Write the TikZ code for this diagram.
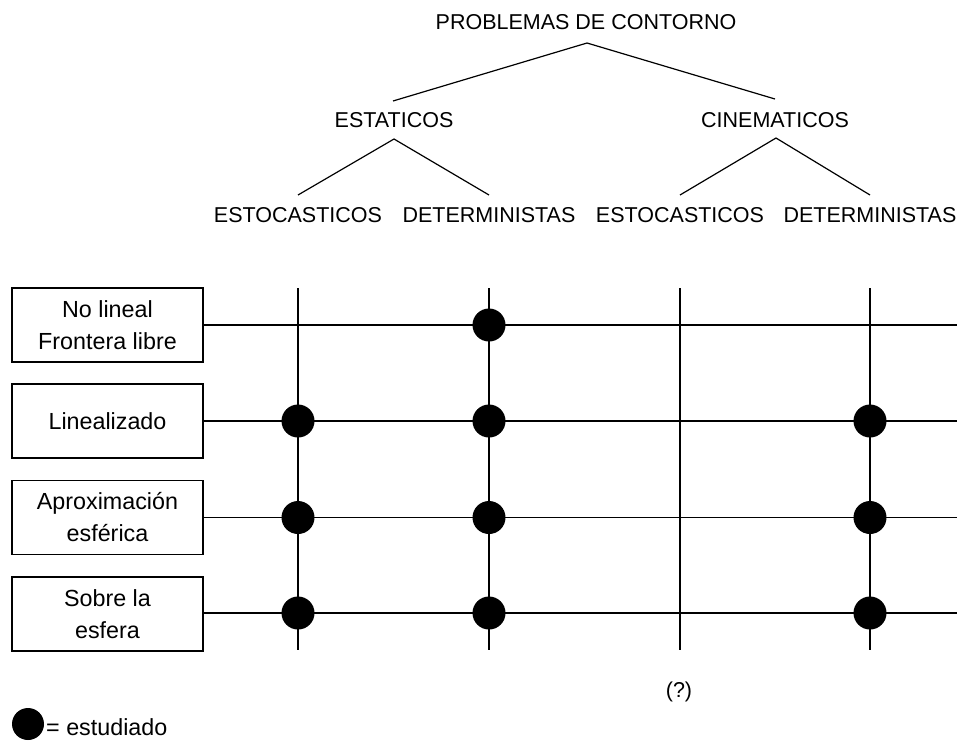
\documentclass[tikz,border=0pt]{standalone}
\usepackage{fontspec}
\setmainfont{Liberation Sans}
\begin{document}
\begin{tikzpicture}[x=1pt,y=-1pt,
  hdr/.style={font=\fontsize{21.5}{25}\selectfont, inner sep=0pt},
  rowbox/.style={draw, line width=1.1pt, minimum width=191pt, minimum height=74pt,
    align=center, font=\fontsize{23.3}{32}\selectfont, inner sep=0pt},
  gridline/.style={line width=1.2pt},
  treeline/.style={line width=1.2pt},
  dot/.style={circle, fill=black, minimum size=33pt, inner sep=0pt}]
\useasboundingbox (0,0) rectangle (957,740);

% tree
\node[hdr] (root) at (586,22) {PROBLEMAS DE CONTORNO};
\coordinate (rootj) at (587,43);
\node[hdr] (est) at (394,120) {ESTATICOS};
\node[hdr] (cin) at (775,120) {CINEMATICOS};
\coordinate (estt) at (393,101);
\coordinate (cint) at (775,99);
\coordinate (estb) at (394,139);
\coordinate (cinb) at (776,138);
\node[hdr] (l1) at (298,215) {ESTOCASTICOS};
\node[hdr] (l2) at (489,215) {DETERMINISTAS};
\node[hdr] (l3) at (680,215) {ESTOCASTICOS};
\node[hdr] (l4) at (870,215) {DETERMINISTAS};
\coordinate (l1t) at (298,195);
\coordinate (l2t) at (489,195);
\coordinate (l3t) at (680,195);
\coordinate (l4t) at (870,195);
\draw[treeline] (estt) -- (rootj) -- (cint);
\draw[treeline] (l1t) -- (estb) -- (l2t);
\draw[treeline] (l3t) -- (cinb) -- (l4t);

% boxes
\node[rowbox] (b1) at (107.5,325) {No lineal\\Frontera libre};
\node[rowbox] (b2) at (107.5,421) {Linealizado};
\node[rowbox] (b3) at (107.5,517.5) {Aproximación\\esférica};
\node[rowbox] (b4) at (107.5,614) {Sobre la\\esfera};

% grid
\coordinate (r1e) at (957,325);
\coordinate (r2e) at (957,421);
\coordinate (r3e) at (957,517.5);
\coordinate (r4e) at (957,613);
\draw[gridline] (b1.east) -- (r1e);
\draw[gridline] (b2.east) -- (r2e);
\draw[gridline] (b3.east) -- (r3e);
\draw[gridline] (b4.east |- r4e) -- (r4e);
\foreach \i/\x in {1/298,2/489,3/680,4/870}{
  \coordinate (c\i t) at (\x,288);
  \coordinate (c\i b) at (\x,650);
  \draw[gridline] (c\i t) -- (c\i b);
}

% dots
\node[dot] (d12) at (489,325) {};
\node[dot] (d21) at (298,421) {};
\node[dot] (d22) at (489,421) {};
\node[dot] (d24) at (870,421) {};
\node[dot] (d31) at (298,517.5) {};
\node[dot] (d32) at (489,517.5) {};
\node[dot] (d34) at (870,517.5) {};
\node[dot] (d41) at (298,613) {};
\node[dot] (d42) at (489,613) {};
\node[dot] (d44) at (870,613) {};

% question mark
\node[hdr] (q) at (679,692) {(?)};

% legend
\node[dot, minimum size=32pt] (leg) at (28,724) {};
\node[anchor=base west, inner sep=0pt, font=\fontsize{23.3}{28}\selectfont] (legt) at (46,735) {= estudiado};
\end{tikzpicture}
\end{document}
